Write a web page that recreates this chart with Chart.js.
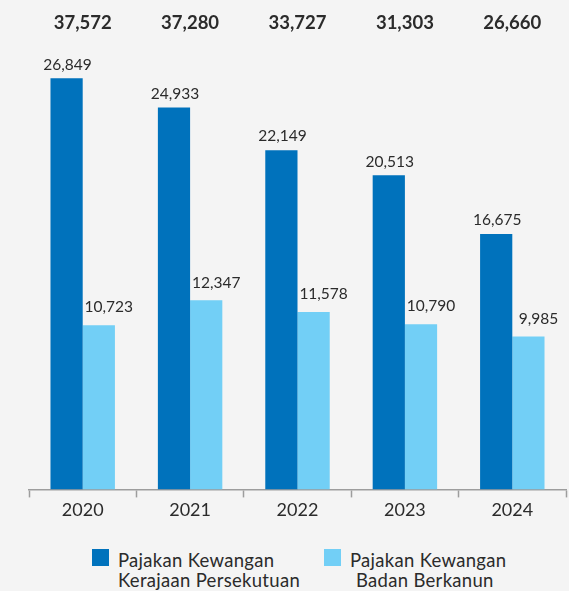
<!DOCTYPE html>
<html lang="ms">
<head>
  <meta charset="UTF-8" />
  <title>Pajakan Kewangan 2020-2024</title>
  <script src="https://cdn.jsdelivr.net/npm/chart.js"></script>
  <style>
    body {
      margin: 0;
      background: #f4f4f4;
      font-family: Lato, 'Open Sans', sans-serif;
      color: #2b2b2b;
    }
    .wrap {
      width: 569px;
      height: 591px;
      position: relative;
    }
    .chart-box {
      width: 569px;
      height: 523px;
    }
    .legend {
      position: absolute;
      top: 550px;
      left: 0;
      width: 569px;
      font-size: 18.5px;
      line-height: 20px;
      letter-spacing: 0.3px;
    }
    .legend-item {
      position: absolute;
      display: flex;
      align-items: flex-start;
    }
    .legend-item .swatch {
      width: 17px;
      height: 17px;
      margin-top: -1px;
      margin-right: 9px;
    }
  </style>
</head>
<body>
  <div class="wrap">
    <div class="chart-box">
      <canvas id="taxChart"></canvas>
    </div>
    <div class="legend" id="legend"></div>
  </div>

  <script>
    const years = ['2020', '2021', '2022', '2023', '2024'];
    const kerajaanPersekutuan = [26849, 24933, 22149, 20513, 16675];
    const badanBerkanun = [10723, 12347, 11578, 10790, 9985];
    const totals = [37572, 37280, 33727, 31303, 26660];

    const darkBlue = '#0072bc';
    const lightBlue = '#72cff6';
    const textColor = '#2b2b2b';

    const fmt = v => v.toLocaleString('en-US');

    // label offsets per dataset: light-bar labels sit a bit right and higher
    const labelShift = [{ dx: 1, dy: 6 }, { dx: 10, dy: 10 }];

    // value labels above each bar + totals along the top
    const labelPlugin = {
      id: 'labels',
      afterDatasetsDraw(chart) {
        const ctx = chart.ctx;
        ctx.save();
        ctx.fillStyle = textColor;
        ctx.textAlign = 'center';
        ctx.textBaseline = 'bottom';
        ctx.font = '15.5px Lato';
        chart.data.datasets.forEach((ds, i) => {
          const s = labelShift[i];
          chart.getDatasetMeta(i).data.forEach((bar, j) => {
            ctx.fillText(fmt(ds.data[j]), bar.x + s.dx, bar.y - s.dy);
          });
        });
        ctx.font = 'bold 18.5px Lato';
        ctx.textBaseline = 'middle';
        const xScale = chart.scales.x;
        totals.forEach((t, j) => {
          ctx.fillText(fmt(t), xScale.getPixelForValue(j), 23);
        });
        ctx.restore();
      }
    };

    new Chart(document.getElementById('taxChart'), {
      type: 'bar',
      data: {
        labels: years,
        datasets: [
          {
            label: 'Pajakan Kewangan Kerajaan Persekutuan',
            data: kerajaanPersekutuan,
            backgroundColor: darkBlue,
            categoryPercentage: 0.6,
            barPercentage: 1.0
          },
          {
            label: 'Pajakan Kewangan Badan Berkanun',
            data: badanBerkanun,
            backgroundColor: lightBlue,
            categoryPercentage: 0.6,
            barPercentage: 1.0
          }
        ]
      },
      options: {
        responsive: true,
        maintainAspectRatio: false,
        animation: false,
        layout: {
          padding: { left: 29, right: 3, top: 30, bottom: 0 }
        },
        plugins: {
          legend: { display: false },
          tooltip: { enabled: false }
        },
        scales: {
          x: {
            grid: {
              offset: true,
              drawOnChartArea: false,
              drawTicks: true,
              tickLength: 8,
              tickColor: '#9d9d9d',
              tickWidth: 1.5
            },
            border: { color: '#9d9d9d', width: 1.5 },
            ticks: {
              color: textColor,
              font: { family: 'Lato', size: 18 },
              padding: 2
            }
          },
          y: {
            display: false,
            min: 0,
            max: 30000
          }
        }
      },
      plugins: [labelPlugin]
    });

    // two-line legend below the chart
    const legendItems = [
      { color: darkBlue, lines: ['Pajakan Kewangan', 'Kerajaan Persekutuan'], left: 92, indent: 0 },
      { color: lightBlue, lines: ['Pajakan Kewangan', 'Badan Berkanun'], left: 324, indent: 6 }
    ];
    const legend = document.getElementById('legend');
    legendItems.forEach(item => {
      const el = document.createElement('div');
      el.className = 'legend-item';
      el.style.left = item.left + 'px';
      el.innerHTML = '<div class="swatch" style="background:' + item.color + '"></div>' +
        '<div><div>' + item.lines[0] + '</div><div style="padding-left:' + item.indent + 'px">' +
        item.lines[1] + '</div></div>';
      legend.appendChild(el);
    });
  </script>
</body>
</html>
